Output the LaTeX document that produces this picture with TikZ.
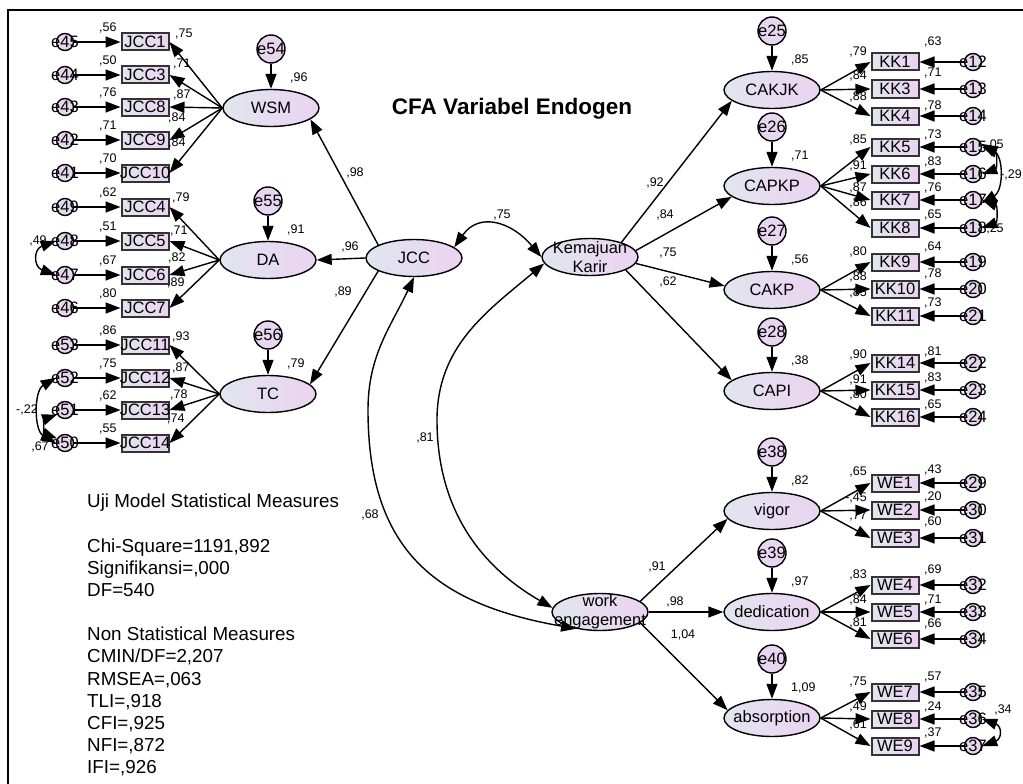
\documentclass[tikz,border=0pt]{standalone}
\usepackage{fontspec}
\setmainfont{Liberation Sans}
\usepackage{tikz}
\usetikzlibrary{arrows.meta,shapes.geometric}
\definecolor{latl}{HTML}{E2E5EF}
\definecolor{latr}{HTML}{EBD3F1}
\definecolor{errc}{HTML}{E8D6F0}
\newcommand{\fntbig}{\fontsize{16.5pt}{19pt}\selectfont}
\newcommand{\fntnum}{\fontsize{12.5pt}{14pt}\selectfont}
\newcommand{\fnttitle}{\fontsize{22.5pt}{26pt}\selectfont\bfseries}
\newcommand{\fntstat}{\fontsize{18.8pt}{22.2pt}\selectfont}

\begin{document}
\begin{tikzpicture}[x=1pt,y=1pt,
    arr/.style={-{Triangle[length=15pt,width=11pt]},line width=1.4pt},
    cov/.style={{Triangle[length=15pt,width=11pt]}-{Triangle[length=15pt,width=11pt]},line width=1.4pt},
    lat/.style={ellipse,draw,line width=1.4pt,minimum width=96pt,minimum height=37pt,inner sep=-12pt,left color=latl,right color=latr,align=center,font=\fntbig},
    obs/.style={rectangle,draw=black!80,line width=2pt,minimum width=47pt,minimum height=17pt,inner sep=-4pt,left color=latl,right color=latr,font=\fntbig},
    err/.style={circle,draw,line width=1.4pt,minimum size=17pt,inner sep=-9pt,fill=errc,font=\fntbig},
    dist/.style={err,minimum size=28pt},
    num/.style={font=\fntnum,inner sep=0pt}]
    \useasboundingbox (0,0) rectangle (1023,-784);
    \draw[line width=2pt] (8,-784) -- (8,-10) -- (1023,-10);
    \node[font=\fnttitle] (title) at (512,-109) {CFA Variabel Endogen};

    % latent variables
    \node[lat] (jcc) at (414,-258) {JCC};
    \node[lat] (kk) at (590,-257) {Kemajuan\\Karir};
    \node[lat] (we) at (600,-612) {work\\engagement};
    \foreach \n/\t/\x/\y/\d/\r in {wsm/WSM/271/108/e54/{,96}, da/DA/268/260/e55/{,91}, tc/TC/268/394/e56/{,79},
        cakjk/CAKJK/772/90/e25/{,85}, capkp/CAPKP/772/186/e26/{,71}, cakp/CAKP/772/290/e27/{,56}, capi/CAPI/772/391/e28/{,38},
        vigor/vigor/772/511/e38/{,82}, dedic/dedication/772/612/e39/{,97}, absorp/absorption/772/718/e40/{1,09}}{
        \node[lat] (\n) at (\x,-\y) {\t};
        \node[dist] (\d) at (\x,-\y+59) {\d};
        \node[num,anchor=west] (r\n) at (\x+19,-\y+30) {\r};
        \draw[arr] (\d) -- (\n);
    }

    % JCC indicators
    \foreach \fac/\ind/\er/\yy/\sq/\ld/\lx/\ly in {
        wsm/JCC1/e45/42/{,56}/{,75}/175/34, wsm/JCC3/e44/75/{,50}/{,71}/173/64,
        wsm/JCC8/e43/107/{,76}/{,87}/173/95, wsm/JCC9/e42/140/{,71}/{,84}/168/118,
        wsm/JCC10/e41/173/{,70}/{,84}/168/143,
        da/JCC4/e49/207/{,62}/{,79}/172/198, da/JCC5/e48/241/{,51}/{,71}/170/231,
        da/JCC6/e47/275/{,67}/{,82}/168/258, da/JCC7/e46/308/{,80}/{,89}/167/283,
        tc/JCC11/e53/345/{,86}/{,93}/172/337, tc/JCC12/e52/378/{,75}/{,87}/172/368,
        tc/JCC13/e51/410/{,62}/{,78}/170/395, tc/JCC14/e50/443/{,55}/{,74}/167/419}{
        \node[obs] (\ind) at (145,-\yy) {\ind};
        \node[err] (\er) at (65,-\yy) {\er};
        \node[num,anchor=west] (s\ind) at (99,-\yy+14) {\sq};
        \node[num,anchor=west] (l\ind) at (\lx,-\ly) {\ld};
        \draw[arr] (\er) -- (\ind);
        \draw[arr] (\fac.west) -- (\ind.east);
    }

    % KK and WE indicators
    \foreach \fac/\ind/\er/\yy/\ld/\ly/\sq/\sy in {
        cakjk/KK1/e12/62/{,79}/52/{,63}/42, cakjk/KK3/e13/89/{,84}/76/{,71}/73,
        cakjk/KK4/e14/116/{,88}/97/{,78}/106,
        capkp/KK5/e15/147/{,85}/140/{,73}/135, capkp/KK6/e16/174/{,91}/166/{,83}/162,
        capkp/KK7/e17/200/{,87}/188/{,76}/188, capkp/KK8/e18/228/{,86}/203/{,65}/215,
        cakp/KK9/e19/262/{,80}/252/{,64}/247, cakp/KK10/e20/289/{,88}/277/{,78}/274,
        cakp/KK11/e21/316/{,85}/293/{,73}/303,
        capi/KK14/e22/363/{,90}/355/{,81}/352, capi/KK15/e23/390/{,91}/380/{,83}/378,
        capi/KK16/e24/417/{,80}/395/{,65}/405,
        vigor/WE1/e29/483/{,65}/472/{,43}/470, vigor/WE2/e30/510/{-,45}/498/{,20}/497,
        vigor/WE3/e31/538/{,77}/516/{,60}/522,
        dedic/WE4/e32/585/{,83}/575/{,69}/570, dedic/WE5/e33/612/{,84}/600/{,71}/600,
        dedic/WE6/e34/639/{,81}/623/{,66}/624,
        absorp/WE7/e35/692/{,75}/682/{,57}/677, absorp/WE8/e36/719/{,49}/707/{,24}/707,
        absorp/WE9/e37/746/{,61}/725/{,37}/733}{
        \node[obs] (\ind) at (895,-\yy) {\ind};
        \node[err] (\er) at (973,-\yy) {\er};
        \node[num,anchor=east] (l\ind) at (867,-\ly) {\ld};
        \node[num,anchor=west] (s\ind) at (924,-\sy) {\sq};
        \draw[arr] (\er) -- (\ind);
        \draw[arr] (\fac.east) -- (\ind.west);
    }

    % structural paths
    \draw[arr] (jcc.160) -- (wsm.-16);
    \draw[arr] (jcc.west) -- (da.east);
    \draw[arr] (jcc.200) -- (tc.13);
    \draw[arr] (kk.25) -- (cakjk.195);
    \draw[arr] (kk.8) -- (capkp.195);
    \draw[arr] (kk.-8) -- (cakp.175);
    \draw[arr] (kk.-20) -- (capi.165);
    \draw[arr] (we.15) -- (vigor.190);
    \draw[arr] (we.east) -- (dedic.west);
    \draw[arr] (we.-15) -- (absorp.170);
    \node[num] (pwsm) at (355,-173) {,98};
    \node[num] (pda) at (350,-247) {,96};
    \node[num] (ptc) at (343,-292) {,89};
    \node[num] (pcakjk) at (655,-183) {,92};
    \node[num] (pcapkp) at (665,-215) {,84};
    \node[num] (pcakp) at (668,-253) {,75};
    \node[num] (pcapi) at (668,-282) {,62};
    \node[num] (pvigor) at (657,-567) {,91};
    \node[num] (pdedic) at (675,-602) {,98};
    \node[num] (pabsorp) at (683,-635) {1,04};

    % covariances
    \coordinate (c68) at (368,-410);
    \coordinate (c81) at (437,-420);
    \draw[cov] (jcc.15) to[out=55,in=130,looseness=1.3] (kk.west);
    \draw[cov] (jcc.south) to[out=245,in=90] (c68) to[out=-90,in=170,looseness=1.2] (we.215);
    \draw[cov] (kk.188) to[out=220,in=90] (c81) to[out=-90,in=150] (we.175);
    \node[num] (cjk) at (502,-215) {,75};
    \node[num] (ckw) at (425,-438) {,81};
    \node[num] (cjw) at (370,-515) {,68};

    \draw[cov] (e48.west) to[bend right=70,looseness=1.8] (e47.west);
    \draw[cov] (e52.west) to[bend right=60] (e50.west);
    \draw[cov] (e51.210) to[bend right=70,looseness=1.5] (e50.150);
    \draw[cov] (e15.east) to[bend left=70,looseness=1.5] (e16.east);
    \draw[cov] (e15.20) to[bend left=60,looseness=1.1] (e17.-20);
    \draw[cov] (e17.east) to[bend left=70,looseness=1.5] (e18.east);
    \draw[cov] (e36.east) to[bend left=70,looseness=2] (e37.east);
    \node[num] (c4847) at (38,-241) {,49};
    \node[num] (c5250) at (27,-410) {-,22};
    \node[num] (c5150) at (40,-447) {,67};
    \node[num] (c1516) at (995,-145) {,05};
    \node[num] (c1517) at (1011,-175) {-,29};
    \node[num] (c1718) at (995,-229) {,25};
    \node[num] (c3637) at (1003,-710) {,34};

    \node[anchor=north west,align=left,inner sep=0pt,font=\fntstat] (fit) at (87,-494) {Uji Model Statistical Measures\\[22pt]Chi-Square=1191,892\\Signifikansi=,000\\DF=540\\[22pt]Non Statistical Measures\\CMIN/DF=2,207\\RMSEA=,063\\TLI=,918\\CFI=,925\\NFI=,872\\IFI=,926};
\end{tikzpicture}
\end{document}
